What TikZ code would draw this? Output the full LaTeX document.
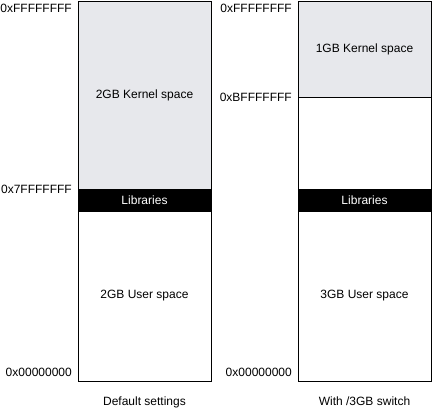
\documentclass[tikz,border=0pt]{standalone}
\usepackage{fontspec}
\setmainfont{Liberation Sans}
\usetikzlibrary{positioning}
\definecolor{kernelgray}{RGB}{231,232,236}
\tikzset{
	region/.style = {rectangle, draw=black, line width=0.8pt, inner sep=0pt,
		outer sep=0pt, minimum width=133pt, text centered,
		font=\fontsize{12}{14}\selectfont},
	kern_r/.style = {region, fill=kernelgray},% espace noyau
	lib_r/.style = {region, fill=black, text=white, minimum height=22pt},% bibliotheques
	user_r/.style = {region, fill=white},% espace utilisateur
	addr/.style = {inner sep=0pt, font=\fontsize{12}{14}\selectfont},
	caption/.style = {inner sep=0pt, font=\fontsize{12}{14}\selectfont}
}
\begin{document}
\begin{tikzpicture}[x=1pt,y=-1pt]
\useasboundingbox (0,0) rectangle (433,410);
% default settings
\node [kern_r, minimum height=188pt, anchor=north west] (kernA) at (78,1) {2GB Kernel space};
\node [lib_r, below=0pt of kernA] (libA) {Libraries};
\node [user_r, minimum height=170pt, below=0pt of libA] (userA) {2GB User space};
\node [addr, below left=3pt and 6pt of kernA.north west] (topA) {0xFFFFFFFF};
\node [addr, left=6pt of libA.north west] (midA) {0x7FFFFFFF};
\node [addr, above left=4pt and 6pt of userA.south west] (botA) {0x00000000};
\node [caption, below=16pt of userA.south] (capA) {Default settings};
% /3GB switch
\node [kern_r, minimum height=96pt, anchor=north west] (kernB) at (298,1) {1GB Kernel space};
\node [user_r, minimum height=92pt, below=0pt of kernB] (gapB) {};
\node [lib_r, below=0pt of gapB] (libB) {Libraries};
\node [user_r, minimum height=170pt, below=0pt of libB] (userB) {3GB User space};
\node [addr, below left=3pt and 6pt of kernB.north west] (topB) {0xFFFFFFFF};
\node [addr, left=6pt of gapB.north west] (midB) {0xBFFFFFFF};
\node [addr, above left=4pt and 6pt of userB.south west] (botB) {0x00000000};
\node [caption, below=16pt of userB.south] (capB) {With /3GB switch};
\end{tikzpicture}
\end{document}
